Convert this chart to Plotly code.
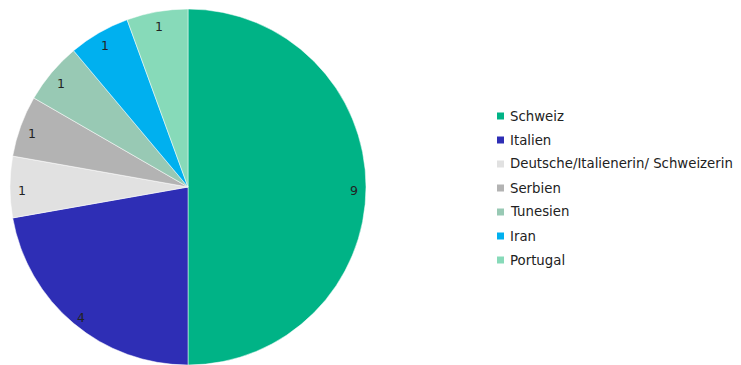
import math
import plotly.graph_objects as go

labels = ["Schweiz", "Italien", "Deutsche/Italienerin/ Schweizerin", "Serbien", "Tunesien", "Iran", "Portugal"]
values = [9, 4, 1, 1, 1, 1, 1]
colors = ["#00B386", "#2E2EB5", "#E1E1E1", "#B3B3B3", "#98C9B4", "#00B0EF", "#87DAB9"]

W, H = 741, 365
cx_px, cy_px, r_px = 188, 187, 178
FONT = "DejaVu Sans"

fig = go.Figure(go.Pie(
    labels=labels, values=values, sort=False, direction="clockwise", rotation=0,
    marker=dict(colors=colors, line=dict(color="white", width=0.5)),
    textinfo="none", hoverinfo="label+value", showlegend=False,
    domain=dict(x=[(cx_px - r_px) / W, (cx_px + r_px) / W], y=[(H - cy_px - r_px) / H, (H - cy_px + r_px) / H]),
))

annotations = []
total = sum(values)
cum = 0
for v in values:
    mid = (cum + v / 2) / total * 2 * math.pi
    cum += v
    px = cx_px + 0.935 * r_px * math.sin(mid)
    py = cy_px - 0.935 * r_px * math.cos(mid)
    annotations.append(dict(x=px / W, y=1 - py / H, xref="paper", yref="paper", text=str(v),
                            xanchor="center", yanchor="middle", yshift=-3,
                            showarrow=False, font=dict(family=FONT, size=12.5, color="#222222")))

shapes = []
leg_x, leg_y0, leg_dy = 508, 116, 24
for i, (lab, col) in enumerate(zip(labels, colors)):
    y = leg_y0 + i * leg_dy
    annotations.append(dict(x=leg_x / W, y=1 - y / H, xref="paper", yref="paper", text=lab,
                            xanchor="left", yanchor="middle", showarrow=False,
                            font=dict(family=FONT, size=13.3, color="#222222")))
    shapes.append(dict(type="rect", xref="paper", yref="paper",
                       x0=(leg_x - 11) / W, x1=(leg_x - 4) / W,
                       y0=1 - (y + 3.5) / H, y1=1 - (y - 3.5) / H,
                       fillcolor=col, line=dict(width=0)))

fig.update_layout(width=W, height=H, margin=dict(l=0, r=0, t=0, b=0),
                  paper_bgcolor="white", plot_bgcolor="white",
                  annotations=annotations, shapes=shapes, font=dict(family=FONT))
fig.write_html("out.html")
